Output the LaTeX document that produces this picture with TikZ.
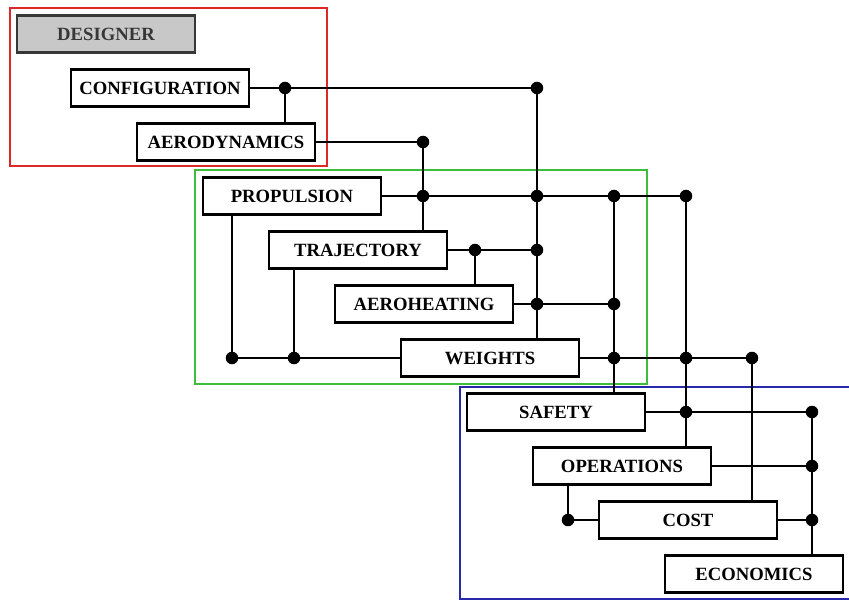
\documentclass[tikz,border=0pt]{standalone}
\usepackage{fontspec}
\setmainfont{Liberation Serif}
\usepackage{tikz}
\usetikzlibrary{positioning}

\definecolor{framered}{RGB}{220,40,40}
\definecolor{framegreen}{RGB}{60,190,60}
\definecolor{frameblue}{RGB}{40,40,170}
\definecolor{designgray}{RGB}{200,200,200}
\definecolor{designtext}{RGB}{55,55,55}

\tikzset{
	blk/.style={draw,fill=white,line width=1.9pt,minimum width=133.5pt,minimum height=27.75pt,inner sep=0pt,font=\bfseries\fontsize{14}{14}\selectfont},
	link/.style={line width=1.5pt},
	frame/.style={line width=1.2pt},
}

\begin{document}
\begin{tikzpicture}[x=0.75pt,y=-0.75pt,node distance=40.5pt and 49.5pt,on grid]
		\useasboundingbox (0,0) rectangle (849,601);
		
		\draw[frame,framered] (10,8) rectangle (327,166);
		\draw[frame,framegreen] (195,170) rectangle (647,384);
		\draw[frame,frameblue] (460,387) rectangle (853,599);
		
		\node[blk,fill=designgray,draw=designtext,text=designtext] (designer) at (106,34) {DESIGNER};
		\node[blk,below right=40.5pt and 40.5pt of designer] (config) {CONFIGURATION};
		\node[blk,below right=of config] (aero) {AERODYNAMICS};
		\node[blk,below right=of aero] (prop) {PROPULSION};
		\node[blk,below right=of prop] (traj) {TRAJECTORY};
		\node[blk,below right=of traj] (aeroh) {AEROHEATING};
		\node[blk,below right=of aeroh] (weights) {WEIGHTS};
		\node[blk,below right=of weights] (safety) {SAFETY};
		\node[blk,below right=of safety] (ops) {OPERATIONS};
		\node[blk,below right=of ops] (cost) {COST};
		\node[blk,below right=of cost] (econ) {ECONOMICS};
		
		\coordinate (tPW) at (232,0);
		\coordinate (tCA) at (285,0);
		\coordinate (tTW) at (294,0);
		\coordinate (tAT) at (423,0);
		\coordinate (tTH) at (475,0);
		\coordinate (tCW) at (537,0);
		\coordinate (tOC) at (568,0);
		\coordinate (tPS) at (614,0);
		\coordinate (tPO) at (686,0);
		\coordinate (tWC) at (752,0);
		\coordinate (tSE) at (812,0);
		
		\draw[link] (config.east) -- (tCW |- config.east) -- (tCW |- weights.north);
		\draw[link] (tCA |- config.east) -- (tCA |- aero.north);
		\draw[link] (aero.east) -- (tAT |- aero.east) -- (tAT |- traj.north);
		\draw[link] (prop.east) -- (tPO |- prop.east) -- (tPO |- ops.north);
		\draw[link] (tPS |- prop.east) -- (tPS |- safety.north);
		\draw[link] (traj.east) -- (tCW |- traj.east);
		\draw[link] (tTH |- traj.east) -- (tTH |- aeroh.north);
		\draw[link] (aeroh.east) -- (tPS |- aeroh.east);
		\draw[link] (weights.east) -- (tWC |- weights.east) -- (tWC |- cost.north);
		\draw[link] (tPW |- prop.south) -- (tPW |- weights.west) -- (weights.west);
		\draw[link] (tTW |- traj.south) -- (tTW |- weights.west);
		\draw[link] (safety.east) -- (tSE |- safety.east) -- (tSE |- econ.north);
		\draw[link] (ops.east) -- (tSE |- ops.east);
		\draw[link] (tOC |- ops.south) -- (tOC |- cost.west) -- (cost.west);
		\draw[link] (cost.east) -- (tSE |- cost.east);
		
		\foreach \t/\n in {tCA/config,tCW/config,tAT/aero,tAT/prop,tCW/prop,tPS/prop,tPO/prop,
			tTH/traj,tCW/traj,tCW/aeroh,tPS/aeroh,tPW/weights,tTW/weights,tPS/weights,tPO/weights,
			tWC/weights,tPO/safety,tSE/safety,tSE/ops,tSE/cost,tOC/cost}
			\fill (\t |- \n.east) circle (4.7pt);
	\end{tikzpicture}
\end{document}
